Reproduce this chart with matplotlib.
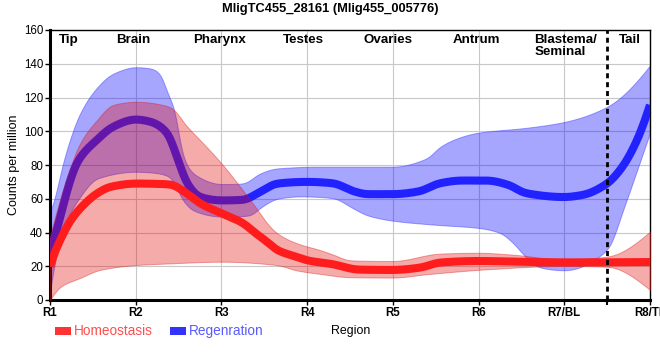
import numpy as np
import matplotlib
matplotlib.use("Agg")
import matplotlib.pyplot as plt
from matplotlib.patches import Rectangle

plt.rcParams['font.family'] = ['Liberation Sans', 'DejaVu Sans']

# ---------------- data ----------------
title = "MligTC455_28161 (Mlig455_005776)"
tick_pos = [1, 2, 3, 4, 5, 6, 7, 8]
tick_labels = ["R1", "R2", "R3", "R4", "R5", "R6", "R7/BL", "R8/TL"]
region_names = ["Tip", "Brain", "Pharynx", "Testes", "Ovaries", "Antrum", "Blastema/\nSeminal", "Tail"]
region_pos = [1.22, 1.97, 2.98, 3.96, 4.94, 5.97, 6.65, 7.77]
tail_boundary = 7.5

# Homeostasis
hom_mean_x = [1.0, 1.035, 1.12, 1.23, 1.39, 1.55, 1.7, 2.0, 2.4, 2.6, 2.75, 3.0, 3.25, 3.4, 3.53, 3.65, 3.88, 4.0, 4.3, 4.6, 5.0, 5.32, 5.55, 6.0, 6.63, 7.0, 8.0]
hom_mean_y = [19.8, 25.7, 35.6, 46.4, 56.3, 63.2, 67, 69, 68.5, 63, 57.3, 51.4, 45.6, 39.5, 34.6, 29.6, 25.5, 23.5, 21.2, 18.0, 17.8, 19.2, 22.2, 23.1, 22.5, 22.3, 22.5]
hom_hi_x = [1.0, 1.15, 1.35, 1.55, 1.73, 2.0, 2.4, 2.6, 2.75, 3.0, 3.25, 3.45, 3.53, 3.65, 3.88, 4.15, 4.3, 4.5, 5.0, 5.55, 6.0, 6.37, 7.0, 7.5, 8.0]
hom_hi_y = [38, 65, 93, 106.7, 115.6, 117.5, 114.5, 102.7, 94.8, 81, 65, 51.4, 45.6, 39.5, 33.6, 29.6, 27, 23.5, 23.1, 27.5, 28, 27, 24.1, 25.7, 40.5]
hom_lo_x = [1.0, 1.12, 1.35, 1.58, 2.0, 2.4, 3.0, 3.65, 3.88, 4.15, 4.5, 5.0, 5.4, 6.1, 7.0, 7.5, 8.0]
hom_lo_y = [0, 7.9, 13, 17.8, 20.7, 21.7, 22.7, 20.7, 17.5, 15.5, 13.5, 13.3, 15.3, 18.2, 20.2, 19.7, 6]

# Regeneration
reg_mean_x = [1.0, 1.12, 1.2, 1.32, 1.55, 1.73, 2.0, 2.17, 2.37, 2.48, 2.6, 2.75, 3.0, 3.25, 3.45, 3.65, 4.0, 4.3, 4.55, 4.7, 5.0, 5.3, 5.55, 5.8, 6.1, 6.35, 6.55, 7.0, 7.21, 7.5, 7.68, 7.85, 8.0]
reg_mean_y = [28, 49, 65, 82, 95, 102.5, 107, 105.7, 99, 85, 69, 61, 59, 59.3, 64, 69, 70, 69.2, 64.3, 62.7, 62.7, 64.3, 69.2, 70.8, 70.8, 68.2, 63.3, 61, 62.2, 69, 79, 94.8, 115.6]
reg_hi_x = [1.0, 1.04, 1.15, 1.35, 1.55, 1.73, 2.0, 2.2, 2.3, 2.38, 2.44, 2.55, 2.67, 3.0, 3.25, 3.45, 3.65, 4.15, 5.0, 5.4, 5.55, 5.8, 6.0, 6.55, 7.0, 7.5, 8.0]
reg_hi_y = [52, 57, 81, 110.6, 126, 134, 138, 137, 133, 121, 116, 85, 75, 68.7, 69, 75, 78, 79, 79, 84, 90.8, 96.7, 99.2, 102, 105.5, 114.5, 139]
reg_lo_x = [1.0, 1.04, 1.15, 1.35, 1.55, 2.0, 2.2, 2.4, 2.55, 2.67, 3.0, 3.33, 3.45, 3.65, 3.92, 4.3, 4.53, 4.7, 5.0, 5.47, 6.0, 6.25, 6.4, 6.56, 6.72, 7.0, 7.5, 7.7, 7.85, 8.0]
reg_lo_y = [5, 18, 41.5, 61, 72, 76, 75.5, 73, 59, 53, 49.4, 50, 54.5, 60, 61.4, 60.4, 54.5, 50.2, 47, 44.7, 42.7, 39.8, 33.9, 25, 19.2, 17.6, 29.6, 55.3, 77, 99]


# ---------------- monotone cubic curve drawing ----------------
def pchip(x, y, xn):
    x = np.asarray(x, float)
    y = np.asarray(y, float)
    h = np.diff(x)
    d = np.diff(y) / h
    n = len(x)
    m = np.zeros(n)
    for k in range(1, n - 1):
        if d[k - 1] * d[k] <= 0:
            m[k] = 0.0
        else:
            w1 = 2 * h[k] + h[k - 1]
            w2 = h[k] + 2 * h[k - 1]
            m[k] = (w1 + w2) / (w1 / d[k - 1] + w2 / d[k])

    def end(h0, h1, d0, d1):
        mm = ((2 * h0 + h1) * d0 - h0 * d1) / (h0 + h1)
        if np.sign(mm) != np.sign(d0):
            mm = 0.0
        elif np.sign(d0) != np.sign(d1) and abs(mm) > abs(3 * d0):
            mm = 3 * d0
        return mm

    m[0] = end(h[0], h[1], d[0], d[1])
    m[-1] = end(h[-1], h[-2], d[-1], d[-2])
    xn = np.asarray(xn, float)
    idx = np.clip(np.searchsorted(x, xn) - 1, 0, n - 2)
    t = (xn - x[idx]) / h[idx]
    h00 = 2 * t**3 - 3 * t**2 + 1
    h10 = t**3 - 2 * t**2 + t
    h01 = -2 * t**3 + 3 * t**2
    h11 = t**3 - t**2
    return h00 * y[idx] + h10 * h[idx] * m[idx] + h01 * y[idx + 1] + h11 * h[idx] * m[idx + 1]


xs = np.linspace(1, 8, 1401)


def curve(x, y, sigma=0.035):
    """Monotone interpolation, then a light Gaussian smoothing for rendering."""
    yv = pchip(x, y, xs)
    step = xs[1] - xs[0]
    s = sigma / step
    r = int(4 * s)
    k = np.arange(-r, r + 1)
    ker = np.exp(-0.5 * (k / s) ** 2)
    ker /= ker.sum()
    left = 2 * yv[0] - yv[1:r + 1][::-1]
    right = 2 * yv[-1] - yv[-r - 1:-1][::-1]
    padded = np.concatenate([left, yv, right])
    return np.convolve(padded, ker, mode="valid")


fig = plt.figure(figsize=(6.6, 3.6), dpi=100)
ax = fig.add_axes([50 / 660, 1 - 300 / 360, 600 / 660, 270 / 360])

blue_band = (0.0, 0.0, 1.0, 0.35)
red_band = (0.90, 0.0, 0.0, 0.33)

# Regeneration band + line
ax.fill_between(xs, curve(reg_lo_x, reg_lo_y), curve(reg_hi_x, reg_hi_y),
                facecolor=blue_band, edgecolor=(0.2, 0.2, 1.0, 0.45), linewidth=0.7, zorder=2)
ax.plot(xs, curve(reg_mean_x, reg_mean_y), color="#2222ff", lw=5.8,
        solid_capstyle="butt", zorder=3)
# Homeostasis band + line
ax.fill_between(xs, curve(hom_lo_x, hom_lo_y), curve(hom_hi_x, hom_hi_y),
                facecolor=red_band, edgecolor=(0.85, 0.1, 0.1, 0.4), linewidth=0.7, zorder=4)
ax.plot(xs, curve(hom_mean_x, hom_mean_y), color="#ff1c1c", lw=5.8,
        solid_capstyle="butt", zorder=5)

# tail boundary
ax.axvline(tail_boundary, color="black", lw=2.0, dashes=(1.8, 1.4), zorder=6)

ax.set_xlim(1, 8)
ax.set_ylim(0, 160)
ax.set_xticks(tick_pos)
ax.set_xticklabels(tick_labels)
ax.set_xticks([tail_boundary], minor=True)
ax.set_yticks(np.arange(0, 161, 20))
ax.grid(True, color="#c8c8c8", lw=0.8, zorder=0)
ax.set_axisbelow(True)
ax.tick_params(axis="both", which="both", direction="out", length=3.5, width=1.0,
               labelsize=8.3, pad=1.5, color="black")
ax.tick_params(axis="x", which="minor", length=3.5, width=1.5)
for lab in ax.get_xticklabels():
    lab.set_fontweight("bold")

for s in ["left", "bottom"]:
    ax.spines[s].set_linewidth(2.2)
for s in ["top", "right"]:
    ax.spines[s].set_linewidth(1.0)

ax.set_ylabel("Counts per million", fontsize=9, labelpad=3)

for name, xp in zip(region_names, region_pos):
    if "\n" in name:
        ax.text(xp, 157.5, name, ha="left", va="top", fontsize=9.6, fontweight="bold",
                linespacing=0.95, zorder=7)
    else:
        ax.text(xp, 157.5, name, ha="center", va="top", fontsize=9.6, fontweight="bold", zorder=7)

fig.text(330 / 660, 1 - 9 / 360, title, ha="center", va="center", fontsize=9.3, fontweight="bold")

# legend below the plot
ly = 1 - 331 / 360
fig.patches.append(Rectangle((55 / 660, ly - 3.5 / 360), 15.5 / 660, 7.5 / 360,
                             transform=fig.transFigure, facecolor="#ff3333", edgecolor="none"))
fig.text(74 / 660, ly, "Homeostasis", ha="left", va="center", fontsize=9.8, color="#ff4d4d")
fig.patches.append(Rectangle((170 / 660, ly - 3.5 / 360), 15.5 / 660, 7.5 / 360,
                             transform=fig.transFigure, facecolor="#3333ff", edgecolor="none"))
fig.text(189 / 660, ly, "Regenration", ha="left", va="center", fontsize=9.8, color="#5a5aff")
fig.text(351 / 660, ly, "Region", ha="center", va="center", fontsize=8.9, color="black")

fig.savefig("out.png", dpi=100)
